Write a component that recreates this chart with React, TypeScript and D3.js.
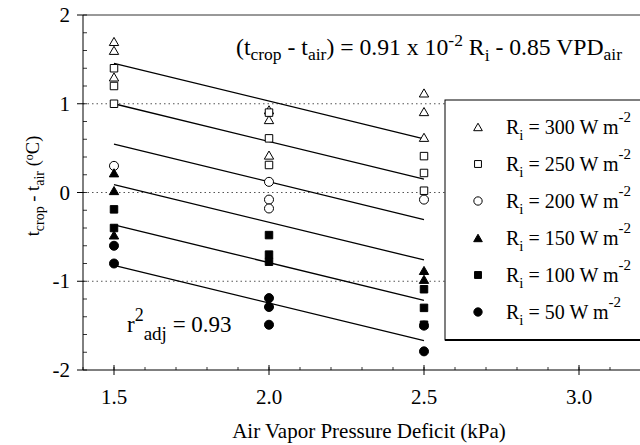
import React from "react";
import * as d3 from "d3";

// radiation levels (W m-2) and their symbols
const levels = [300, 250, 200, 150, 100, 50];
const symbolKinds = ["triangle", "square", "circle", "triangle", "square", "circle"];
const filled = [false, false, false, true, true, true];

// observed points, [VPD, dT]
const r300 = [[1.5, 1.7], [1.5, 1.6], [1.5, 1.3], [2.0, 0.93], [2.0, 0.82], [2.0, 0.42], [2.5, 1.12], [2.5, 0.91], [2.5, 0.62]];
const r250 = [[1.5, 1.4], [1.5, 1.2], [1.5, 1.0], [2.0, 0.9], [2.0, 0.61], [2.0, 0.31], [2.5, 0.41], [2.5, 0.22], [2.5, 0.02]];
const r200 = [[1.5, 0.3], [2.0, 0.12], [2.0, -0.08], [2.0, -0.18], [2.5, -0.08]];
const r150 = [[1.5, 0.22], [1.5, 0.02], [1.5, -0.48], [2.5, -0.88], [2.5, -0.98]];
const r100 = [[1.5, -0.19], [1.5, -0.4], [2.0, -0.48], [2.0, -0.7], [2.0, -0.78], [2.5, -1.09], [2.5, -1.3], [2.5, -1.49]];
const r50 = [[1.5, -0.6], [1.5, -0.8], [2.0, -1.19], [2.0, -1.29], [2.0, -1.49], [2.5, -1.5], [2.5, -1.79]];
const seriesPoints = [r300, r250, r200, r150, r100, r50];

// fit: dT = 0.91e-2 Ri - 0.85 VPD
const coefR = 0.0091;
const coefV = -0.85;
const fitRange = [1.5, 2.5];

const xTicks = [1.5, 2.0, 2.5, 3.0];
const yTicks = [2, 1, 0, -1, -2];
const gridY = [1, 0, -1];

const W = 640;
const H = 445;
const FONT = "Liberation Serif";

const x = d3.scaleLinear().domain([1.4, 3.2]).range([83, 641]);
const y = d3.scaleLinear().domain([-2, 2]).range([370, 15]);

const symbolSize = (kind: string) =>
  kind === "triangle" ? 38 : kind === "square" ? 56 : 64;
const symbolType = (kind: string) =>
  kind === "triangle" ? d3.symbolTriangle : kind === "square" ? d3.symbolSquare : d3.symbolCircle;

const Marker = ({ kind, fill, cx, cy, scale = 1 }: any) => {
  const d = d3.symbol().type(symbolType(kind)).size(symbolSize(kind) * scale)()!;
  const dy = kind === "triangle" ? 1.2 : 0;
  return (
    <path
      d={d}
      transform={`translate(${cx},${cy + dy})`}
      fill={fill ? "#000" : "#fff"}
      stroke="#000"
      strokeWidth={1}
    />
  );
};

export default function App() {
  const minorX = d3.range(1.4, 3.21, 0.1).map((v) => +v.toFixed(2));
  const minorY = d3.range(-2, 2.01, 0.2).map((v) => +v.toFixed(2));

  return (
    <svg
      width={W}
      height={H}
      fontFamily={FONT}
      style={{ position: "absolute", left: 0, top: 0, background: "#fff" }}
    >
      <style>{`text { font-family: 'Liberation Serif', 'Times New Roman', serif; }`}</style>
      <rect width={W} height={H} fill="#fff" />

      {/* dotted grid */}
      {gridY.map((g) => (
        <line key={g} x1={x(1.4)} x2={W} y1={y(g)} y2={y(g)} stroke="#555" strokeWidth={1} strokeDasharray="1.5,3" />
      ))}

      {/* top frame */}
      <line x1={x(1.4)} x2={W} y1={y(2)} y2={y(2)} stroke="#333" strokeWidth={1} />

      {/* axes */}
      <line x1={x(1.4)} x2={x(1.4)} y1={y(2)} y2={y(-2)} stroke="#000" strokeWidth={1} />
      <line x1={x(1.4)} x2={W} y1={y(-2)} y2={y(-2)} stroke="#000" strokeWidth={1} />

      {minorY.map((v) => (
        <line key={"my" + v} x1={x(1.4)} x2={x(1.4) + 4} y1={y(v)} y2={y(v)} stroke="#000" strokeWidth={0.8} />
      ))}
      {yTicks.map((v) => (
        <g key={"y" + v}>
          <line x1={x(1.4) - 6} x2={x(1.4)} y1={y(v)} y2={y(v)} stroke="#000" />
          <text x={70} y={y(v) + 7} textAnchor="end" fontSize={21} fontFamily={FONT}>
            {v}
          </text>
        </g>
      ))}

      {minorX.map((v) => (
        <line key={"mx" + v} x1={x(v)} x2={x(v)} y1={y(-2)} y2={y(-2) - 3} stroke="#000" strokeWidth={0.8} />
      ))}
      {xTicks.map((v) => (
        <g key={"x" + v}>
          <line x1={x(v)} x2={x(v)} y1={y(-2) - 5} y2={y(-2) + 5} stroke="#000" />
          <text x={x(v)} y={404} textAnchor="middle" fontSize={21} fontFamily={FONT}>
            {v.toFixed(1)}
          </text>
        </g>
      ))}

      {/* fitted lines */}
      {levels.map((r) => {
        const pts = fitRange.map((v) => [x(v), y(coefR * r + coefV * v)] as [number, number]);
        return <path key={"fit" + r} d={d3.line()(pts)!} stroke="#000" strokeWidth={1.3} fill="none" />;
      })}

      {/* points */}
      {seriesPoints.map((pts, si) =>
        pts.map((p, i) => (
          <Marker key={si + "-" + i} kind={symbolKinds[si]} fill={filled[si]} cx={x(p[0])} cy={y(p[1])} />
        ))
      )}

      {/* legend */}
      <rect x={445} y={100} width={W} height={240} fill="#fff" stroke="#000" strokeWidth={1} />
      <line x1={445} x2={W} y1={340} y2={340} stroke="#000" strokeWidth={2} />
      {levels.map((r, i) => {
        const ly = 127 + i * 37;
        return (
          <g key={"leg" + r}>
            <Marker kind={symbolKinds[i]} fill={filled[i]} cx={478} cy={ly} scale={0.85} />
            <text x={506} y={ly + 7} fontSize={20} fontFamily={FONT}>
              R<tspan dy={6} fontSize={15}>i</tspan>
              <tspan dy={-6}> = {r} W m</tspan>
              <tspan dy={-12} fontSize={15}>-2</tspan>
            </text>
          </g>
        );
      })}

      {/* equation */}
      <text x={236} y={55} fontSize={23.7} fontFamily={FONT}>
        (t<tspan dy={5} fontSize={17.5}>crop</tspan>
        <tspan dy={-5}> - t</tspan>
        <tspan dy={5} fontSize={17.5}>air</tspan>
        <tspan dy={-5}>) = 0.91 x 10</tspan>
        <tspan dy={-9} fontSize={17.5}>-2</tspan>
        <tspan dy={9}> R</tspan>
        <tspan dy={6} fontSize={17.5}>i</tspan>
        <tspan dy={-6}> - 0.85 VPD</tspan>
        <tspan dy={5} fontSize={17.5}>air</tspan>
      </text>

      {/* r2 */}
      <text x={127} y={332} fontSize={23} fontFamily={FONT}>
        r<tspan dy={-11} fontSize={18}>2</tspan>
        <tspan dy={19} fontSize={19}>adj</tspan>
        <tspan dy={-8}> = 0.93</tspan>
      </text>

      {/* axis titles */}
      <text x={369} y={438} textAnchor="middle" fontSize={21} fontFamily={FONT}>
        Air Vapor Pressure Deficit (kPa)
      </text>
      <text transform="translate(39,186) rotate(-90)" textAnchor="middle" fontSize={18.5} fontFamily={FONT}>
        t<tspan dy={5} fontSize={14}>crop</tspan>
        <tspan dy={-5}> - t</tspan>
        <tspan dy={5} fontSize={14}>air</tspan>
        <tspan dy={-5}> (</tspan>
        <tspan dy={-6} fontSize={12}>o</tspan>
        <tspan dy={6}>C)</tspan>
      </text>
    </svg>
  );
}
